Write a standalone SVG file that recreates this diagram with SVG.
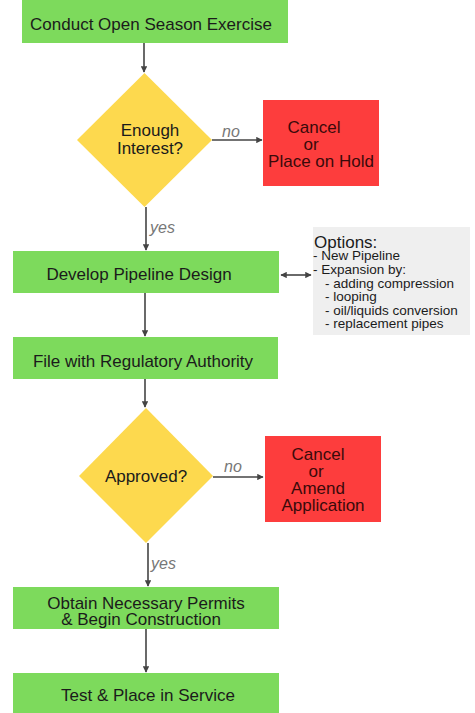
<svg xmlns="http://www.w3.org/2000/svg" width="475" height="713" viewBox="0 0 475 713">
<defs>
<style>
.box{fill:#7dda5c;}
.dec{fill:#fdd94e;}
.red{fill:#fd3d3d;}
.opt{fill:#efefef;}
text{font-family:"Liberation Sans",Arial,sans-serif;fill:#1b1b1b;}
.t{font-size:17px;text-anchor:middle;}
.rt{font-size:17px;text-anchor:middle;fill:#3a0a0a;}
.lbl{font-size:16px;font-style:italic;fill:#777;}
.o{font-size:13.5px;}
.line{stroke:#444;stroke-width:1.6;fill:none;}
</style>
<marker id="ah" viewBox="0 0 10 10" refX="9" refY="5" markerWidth="4" markerHeight="4" orient="auto-start-reverse">
<path d="M0,0 L10,5 L0,10 z" fill="#444"/>
</marker>
</defs>
<rect width="475" height="713" fill="#fff"/>
<g id="connectors">
<line class="line" x1="144" y1="43" x2="144" y2="72" marker-end="url(#ah)"/>
<line class="line" x1="212" y1="140" x2="262" y2="140" marker-end="url(#ah)"/>
<text class="lbl" x="222" y="137">no</text>
<line class="line" x1="146" y1="207" x2="146" y2="250" marker-end="url(#ah)"/>
<text class="lbl" x="150" y="233">yes</text>
<line class="line" x1="281" y1="275" x2="311" y2="275" marker-start="url(#ah)" marker-end="url(#ah)"/>
<line class="line" x1="145" y1="293" x2="145" y2="336" marker-end="url(#ah)"/>
<line class="line" x1="145" y1="379" x2="145" y2="407" marker-end="url(#ah)"/>
<line class="line" x1="213" y1="477" x2="263" y2="477" marker-end="url(#ah)"/>
<text class="lbl" x="224" y="472">no</text>
<line class="line" x1="148" y1="543" x2="148" y2="586" marker-end="url(#ah)"/>
<text class="lbl" x="151" y="569">yes</text>
<line class="line" x1="146" y1="629" x2="146" y2="672" marker-end="url(#ah)"/>
</g>
<g id="conduct">
<rect class="box" x="22" y="0" width="266" height="43"/>
<text class="t" x="151" y="30">Conduct Open Season Exercise</text>
</g>
<g id="enough">
<polygon class="dec" points="144.5,73 212,140 144.5,207 77,140"/>
<text class="t" x="150" y="136">Enough</text>
<text class="t" x="150" y="154">Interest?</text>
</g>
<g id="cancel1">
<rect class="red" x="263" y="100" width="116" height="86"/>
<text class="rt" x="314" y="133">Cancel</text>
<text class="rt" x="311" y="150">or</text>
<text class="rt" x="321" y="167">Place on Hold</text>
</g>
<g id="design">
<rect class="box" x="13" y="251" width="266" height="42"/>
<text class="t" x="139" y="280">Develop Pipeline Design</text>
</g>
<g id="options">
<rect class="opt" x="313" y="227" width="157" height="108"/>
<text x="314" y="248" style="font-size:17px">Options:</text>
<text class="o" x="313" y="260">- New Pipeline</text>
<text class="o" x="313" y="274">- Expansion by:</text>
<text class="o" x="325" y="288">- adding compression</text>
<text class="o" x="325" y="301">- looping</text>
<text class="o" x="325" y="315">- oil/liquids conversion</text>
<text class="o" x="325" y="328">- replacement pipes</text>
</g>
<g id="file">
<rect class="box" x="13" y="337" width="265" height="42"/>
<text class="t" x="143" y="367">File with Regulatory Authority</text>
</g>
<g id="approved">
<polygon class="dec" points="146,408 213,476 146,543 79,476"/>
<text class="t" x="146" y="482">Approved?</text>
</g>
<g id="cancel2">
<rect class="red" x="265" y="436" width="116" height="86"/>
<text class="rt" x="318" y="460">Cancel</text>
<text class="rt" x="316" y="477">or</text>
<text class="rt" x="318" y="494">Amend</text>
<text class="rt" x="323" y="511">Application</text>
</g>
<g id="permits">
<rect class="box" x="13" y="587" width="266" height="42"/>
<text class="t" x="146" y="609">Obtain Necessary Permits</text>
<text class="t" x="141" y="625">&amp; Begin Construction</text>
</g>
<g id="test">
<rect class="box" x="13" y="673" width="266" height="45"/>
<text class="t" x="148" y="701">Test &amp; Place in Service</text>
</g>
</svg>
